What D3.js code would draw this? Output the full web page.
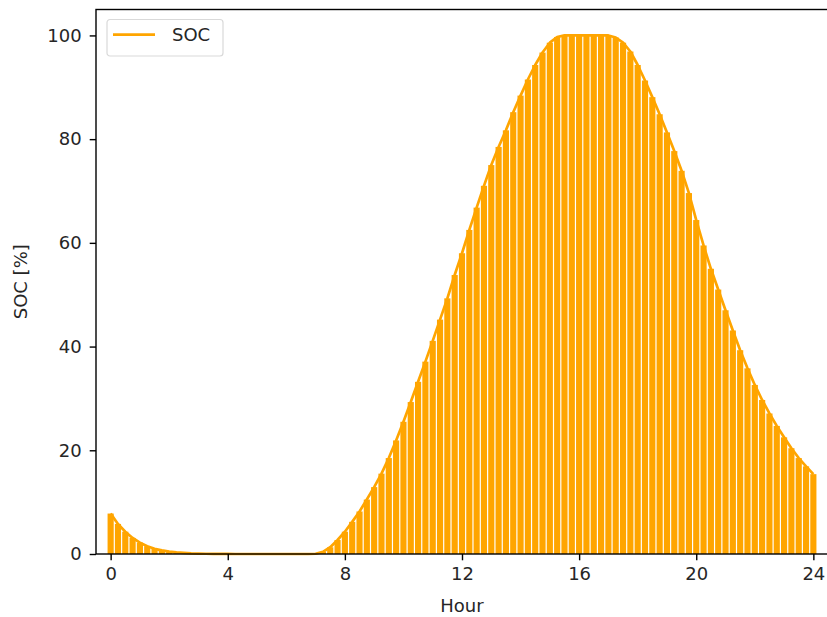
<!DOCTYPE html>
<meta charset="utf-8">
<script src="https://d3js.org/d3.v7.min.js"></script>
<style>
  body { margin: 0; background: #fff; }
  text { font-family: "DejaVu Sans", sans-serif; fill: #262626; }
</style>
<body>
<div id="my_dataviz"></div>
<script>

  // quarter-hour time steps over one day
  var hours = d3.range(97).map(function(i) { return i / 4; });

  // state of charge [%], one value per quarter hour
  var soc = [
    7.8, 5.8, 4.3, 3.1, 2.2, 1.5, 1.0, 0.7, 0.45, 0.3, 0.2, 0.12, 0.08, 0.05, 0.03, 0.02, 0.01,
    0, 0, 0, 0, 0, 0, 0, 0, 0, 0, 0,
    0.05, 0.4, 1.3, 2.7, 4.3, 6.2, 8.2, 10.5, 12.9, 15.5, 18.5, 21.9,
    25.5, 29.3, 33.2, 37.1, 41.1, 45.2, 49.3, 53.8, 58.0, 62.5, 66.8, 71.0,
    75.0, 78.5, 81.7, 85.2, 88.4, 91.5, 94.3, 96.7, 98.6, 99.7, 100, 100,
    100, 100, 100, 100, 100, 99.6, 98.6, 96.9, 94.3, 91.3, 88.1,
    84.8, 81.3, 77.7, 73.9, 69.6, 64.4, 59.5, 55.0, 51.0, 47.0, 43.1, 39.3,
    35.8, 32.6, 29.7, 27.1, 24.7, 22.5, 20.4, 18.5, 16.9, 15.4
  ];

  var xTicks = [0, 4, 8, 12, 16, 20, 24];
  var yTicks = [0, 20, 40, 60, 80, 100];

  // set the dimensions and margins of the graph
  var width = 827, height = 617;
  var margin = {top: 9.5, right: -1, bottom: 63, left: 96};
  var w = width - margin.left - margin.right;
  var h = height - margin.top - margin.bottom;
  var color = "orange";

  var svg = d3.select("#my_dataviz")
    .append("svg")
      .attr("width", width)
      .attr("height", height)
    .append("g")
      .attr("transform", "translate(" + margin.left + "," + margin.top + ")");

  var x = d3.scaleLinear().domain([-0.5, 24.5]).range([0, w]);
  var y = d3.scaleLinear().domain([0, 105]).range([h, 0]);

  var barW = x(0.21) - x(0);

  // bars
  svg.selectAll("rect.bar")
    .data(soc)
    .enter()
    .append("rect")
      .attr("class", "bar")
      .attr("x", function(d, i) { return x(hours[i]) - barW / 2; })
      .attr("width", barW)
      .attr("y", function(d) { return y(d); })
      .attr("height", function(d) { return y(0) - y(d); })
      .attr("fill", color);

  // line on top
  var line = d3.line()
    .x(function(d, i) { return x(hours[i]); })
    .y(function(d) { return y(d); });

  svg.append("path")
    .datum(soc)
    .attr("d", line)
    .attr("fill", "none")
    .attr("stroke", color)
    .attr("stroke-width", 2.7)
    .attr("stroke-linejoin", "round")
    .attr("stroke-linecap", "butt");

  // axes
  var xAxis = svg.append("g")
    .attr("transform", "translate(0," + h + ")")
    .call(d3.axisBottom(x).tickValues(xTicks).tickSize(6.3).tickPadding(7).tickFormat(d3.format("d")));

  var yAxis = svg.append("g")
    .call(d3.axisLeft(y).tickValues(yTicks).tickSize(6.3).tickPadding(8).tickFormat(d3.format("d")));

  [xAxis, yAxis].forEach(function(a) {
    a.select(".domain").remove();
    a.selectAll(".tick line").attr("stroke", "#000").attr("stroke-width", 1.4);
    a.selectAll(".tick text")
      .style("font-size", "18px")
      .style("font-family", "DejaVu Sans")
      .attr("fill", "#262626");
  });

  // frame
  svg.append("rect")
    .attr("x", 0).attr("y", 0)
    .attr("width", w).attr("height", h)
    .attr("fill", "none")
    .attr("stroke", "#000")
    .attr("stroke-width", 1.4);

  // axis labels
  svg.append("text")
    .attr("x", (x(-0.5) + x(24.5)) / 2)
    .attr("y", h + 58)
    .attr("text-anchor", "middle")
    .style("font-size", "18px")
    .text("Hour");

  svg.append("text")
    .attr("transform", "translate(" + (-69) + "," + (h / 2) + ") rotate(-90)")
    .attr("text-anchor", "middle")
    .style("font-size", "18px")
    .text("SOC [%]");

  // legend
  var legend = svg.append("g")
    .attr("transform", "translate(11,10)");

  legend.append("rect")
    .attr("width", 116)
    .attr("height", 36.5)
    .attr("rx", 3)
    .attr("fill", "#fff")
    .attr("fill-opacity", 0.8)
    .attr("stroke", "#d9d9d9")
    .attr("stroke-width", 1.2);

  legend.append("line")
    .attr("x1", 6).attr("x2", 48)
    .attr("y1", 15.2).attr("y2", 15.2)
    .attr("stroke", color)
    .attr("stroke-width", 2.7);

  legend.append("text")
    .attr("x", 65)
    .attr("y", 21.5)
    .style("font-size", "18px")
    .text("SOC");

</script>
</body>
